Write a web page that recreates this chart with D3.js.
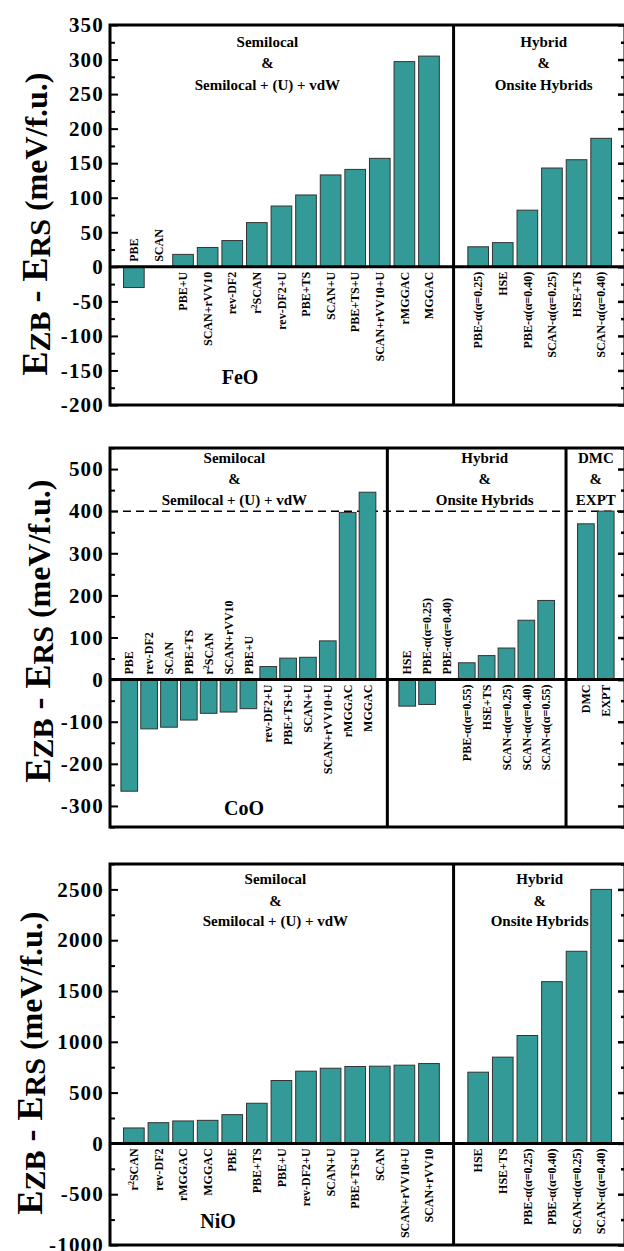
<html>
<head>
<meta charset="utf-8">
<script src="https://cdnjs.cloudflare.com/ajax/libs/d3/7.8.5/d3.min.js"></script>
<style>
	body { margin: 0; background: #fff; }
	text { font-family: "Liberation Serif", "Times New Roman", serif; font-weight: bold; }
</style>
</head>
<body>
<div id="chart"></div>
<script>

// ---- data (meV/f.u.) ----
var feoSemiCats = ["PBE", "SCAN", "PBE+U", "SCAN+rVV10", "rev-DF2", "r2SCAN", "rev-DF2+U", "PBE+TS", "SCAN+U", "PBE+TS+U", "SCAN+rVV10+U", "rMGGAC", "MGGAC"];
var feoSemiVals = [-30, 0, 18, 28, 38, 64, 88, 104, 133, 141, 157, 297, 305];
var feoHybCats = ["PBE-α(α=0.25)", "HSE", "PBE-α(α=0.40)", "SCAN-α(α=0.25)", "HSE+TS", "SCAN-α(α=0.40)"];
var feoHybVals = [29, 35, 82, 143, 155, 186];

var cooSemiCats = ["PBE", "rev-DF2", "SCAN", "PBE+TS", "r2SCAN", "SCAN+rVV10", "PBE+U", "rev-DF2+U", "PBE+TS+U", "SCAN+U", "SCAN+rVV10+U", "rMGGAC", "MGGAC"];
var cooSemiVals = [-265, -117, -113, -96, -80, -77, -69, 31, 51, 53, 92, 397, 445];
var cooHybCats = ["HSE", "PBE-α(α=0.25)", "PBE-α(α=0.40)", "PBE-α(α=0.55)", "HSE+TS", "SCAN-α(α=0.25)", "SCAN-α(α=0.40)", "SCAN-α(α=0.55)"];
var cooHybVals = [-63, -59, -2, 40, 57, 75, 141, 188];
var cooRefCats = ["DMC", "EXPT"];
var cooRefVals = [370, 400];
var cooRefLine = 400;

var nioSemiCats = ["r2SCAN", "rev-DF2", "rMGGAC", "MGGAC", "PBE", "PBE+TS", "PBE+U", "rev-DF2+U", "SCAN+U", "PBE+TS+U", "SCAN", "SCAN+rVV10+U", "SCAN+rVV10"];
var nioSemiVals = [152, 204, 221, 227, 283, 395, 619, 711, 740, 757, 760, 770, 786];
var nioHybCats = ["HSE", "HSE+TS", "PBE-α(α=0.25)", "PBE-α(α=0.40)", "SCAN-α(α=0.25)", "SCAN-α(α=0.40)"];
var nioHybVals = [701, 849, 1062, 1592, 1891, 2500];

var semiTitle = ["Semilocal", "&", "Semilocal + (U) + vdW"];
var hybTitle = ["Hybrid", "&", "Onsite Hybrids"];
var refTitle = ["DMC", "&", "EXPT"];

// ---- layout ----
var W = 624, H = 1251;
var left = 110, right = 625;
var barColor = "#339a97";

var panels = [
	{ name: "FeO", top: 25, bottom: 405, domain: [-200, 350], tickStart: -200, major: 50, titleX: 47, titleY: 224, nameX: 240, nameY: 384,
	  lineY: [17, 38, 60],
	  groups: [ { cats: feoSemiCats, vals: feoSemiVals, title: semiTitle, dx: -14 },
	            { cats: feoHybCats, vals: feoHybVals, title: hybTitle, dx: 4 } ] },
	{ name: "CoO", top: 448, bottom: 827, domain: [-350, 550], tickStart: -300, major: 100, titleX: 50, titleY: 631, nameX: 244, nameY: 815,
	  lineY: [10, 31, 52], refLine: cooRefLine,
	  groups: [ { cats: cooSemiCats, vals: cooSemiVals, title: semiTitle, dx: -14 },
	            { cats: cooHybCats, vals: cooHybVals, title: hybTitle, dx: 8 },
	            { cats: cooRefCats, vals: cooRefVals, title: refTitle, dx: 0 } ] },
	{ name: "NiO", top: 864, bottom: 1245, domain: [-1000, 2750], tickStart: -1000, major: 500, titleX: 42, titleY: 1063, nameX: 218, nameY: 1228,
	  lineY: [15, 37, 57],
	  groups: [ { cats: nioSemiCats, vals: nioSemiVals, title: semiTitle, dx: -6 },
	            { cats: nioHybCats, vals: nioHybVals, title: hybTitle, dx: 0 } ] }
];

var svg = d3.select("#chart").append("svg")
	.attr("width", W)
	.attr("height", H);

svg.append("rect").attr("width", W).attr("height", H).attr("fill", "#fff");

function addLabel(sel, name) {
	// r2SCAN gets a superscript 2
	if (name == "r2SCAN") {
		sel.append("tspan").text("r");
		sel.append("tspan").attr("font-size", "8px").attr("dy", "-4").text("2");
		sel.append("tspan").attr("dy", "4").text("SCAN");
	} else {
		sel.text(name);
	}
}

panels.forEach(function(p) {

	var g = svg.append("g");

	// one band scale over all slots, with an empty slot between groups
	var slots = [];
	p.groups.forEach(function(gr, i) {
		if (i > 0) slots.push("_gap" + i);
		gr.cats.forEach(function(c) { slots.push(c); });
	});

	var x = d3.scaleBand()
		.domain(slots)
		.range([left, right])
		.paddingInner(0.16)
		.paddingOuter(0.55);

	var y = d3.scaleLinear()
		.domain(p.domain)
		.range([p.bottom, p.top]);

	var y0 = y(0);

	// ticks
	var inside = function(v) { return v >= p.domain[0] && v <= p.domain[1]; };
	var majors = d3.range(p.tickStart, p.domain[1] + 1, p.major).filter(inside);
	var minors = d3.range(p.tickStart - p.major / 2, p.domain[1] + 1, p.major).filter(inside);

	var ax = g.append("g").attr("transform", "translate(" + left + ",0)")
		.call(d3.axisLeft(y).tickValues(majors).tickSizeInner(-8).tickSizeOuter(0).tickPadding(6)
			.tickFormat(function(d) { return String(d); }));
	ax.select(".domain").remove();
	ax.selectAll("line").attr("stroke", "#000").attr("stroke-width", 2);
	ax.selectAll("text")
		.attr("font-size", "21px")
		.attr("letter-spacing", "1.2px")
		.attr("fill", "#000");

	var axm = g.append("g").attr("transform", "translate(" + left + ",0)")
		.call(d3.axisLeft(y).tickValues(minors).tickSizeInner(-5).tickSizeOuter(0).tickFormat(""));
	axm.select(".domain").remove();
	axm.selectAll("line").attr("stroke", "#000").attr("stroke-width", 2);

	var axr = g.append("g").attr("transform", "translate(" + right + ",0)")
		.call(d3.axisRight(y).tickValues(majors).tickSizeInner(-7).tickSizeOuter(0).tickFormat(""));
	axr.select(".domain").remove();
	axr.selectAll("line").attr("stroke", "#000").attr("stroke-width", 2.5);

	var axrm = g.append("g").attr("transform", "translate(" + right + ",0)")
		.call(d3.axisRight(y).tickValues(minors).tickSizeInner(-4).tickSizeOuter(0).tickFormat(""));
	axrm.select(".domain").remove();
	axrm.selectAll("line").attr("stroke", "#000").attr("stroke-width", 2.5);

	// dashed reference line
	if (p.refLine != null) {
		g.append("line")
			.attr("x1", left).attr("x2", right)
			.attr("y1", y(p.refLine)).attr("y2", y(p.refLine))
			.attr("stroke", "#000")
			.attr("stroke-width", 1.5)
			.attr("stroke-dasharray", "8,5");
	}

	p.groups.forEach(function(gr, gi) {

		var data = gr.cats.map(function(c, i) { return { cat: c, val: gr.vals[i] }; });

		g.selectAll(".bar" + gi)
			.data(data)
			.enter()
			.append("rect")
			.attr("x", function(d) { return x(d.cat); })
			.attr("y", function(d) { return Math.min(y(d.val), y0); })
			.attr("width", x.bandwidth())
			.attr("height", function(d) { return Math.abs(y(d.val) - y0); })
			.attr("fill", barColor)
			.attr("stroke", "#333")
			.attr("stroke-width", 1);

		g.selectAll(".lab" + gi)
			.data(data)
			.enter()
			.append("text")
			.attr("transform", function(d) {
				var cx = x(d.cat) + x.bandwidth() / 2;
				var ty = d.val > 0 ? y0 + 5 : y0 - 5;
				return "translate(" + cx + "," + ty + ") rotate(-90)";
			})
			.attr("text-anchor", function(d) { return d.val > 0 ? "end" : "start"; })
			.attr("dy", "0.35em")
			.attr("font-size", "12px")
			.attr("fill", "#000")
			.each(function(d) { addLabel(d3.select(this), d.cat); });

		// group heading
		var gx = (x(gr.cats[0]) + x(gr.cats[gr.cats.length - 1]) + x.bandwidth()) / 2 + gr.dx;
		gr.title.forEach(function(t, ti) {
			g.append("text")
				.attr("x", gx)
				.attr("y", p.top + p.lineY[ti])
				.attr("dy", "0.35em")
				.attr("text-anchor", "middle")
				.attr("font-size", "15px")
				.attr("fill", "#000")
				.text(t);
		});

		// vertical divider in the middle of the gap slot
		if (gi > 0) {
			var dxl = x("_gap" + gi) + x.bandwidth() / 2;
			g.append("line")
				.attr("x1", dxl).attr("x2", dxl)
				.attr("y1", p.top).attr("y2", p.bottom)
				.attr("stroke", "#000")
				.attr("stroke-width", 3);
		}
	});

	// zero line
	g.append("line")
		.attr("x1", left).attr("x2", right)
		.attr("y1", y0).attr("y2", y0)
		.attr("stroke", "#000")
		.attr("stroke-width", 3);

	// frame
	g.append("rect")
		.attr("x", left).attr("y", p.top)
		.attr("width", right - left).attr("height", p.bottom - p.top)
		.attr("fill", "none")
		.attr("stroke", "#000")
		.attr("stroke-width", 3);

	// compound name
	g.append("text")
		.attr("x", p.nameX).attr("y", p.nameY)
		.attr("text-anchor", "middle")
		.attr("font-size", "20px")
		.attr("fill", "#000")
		.text(p.name);

	// y title
	var tt = g.append("text")
		.attr("transform", "translate(" + p.titleX + "," + p.titleY + ") rotate(-90)")
		.attr("text-anchor", "middle")
		.attr("font-size", "36px")
		.attr("fill", "#000");
	tt.append("tspan").text("E");
	tt.append("tspan").attr("font-size", "30px").attr("dy", 3).text("ZB");
	tt.append("tspan").attr("dy", -3).text(" - E");
	tt.append("tspan").attr("font-size", "30px").attr("dy", 3).text("RS");
	tt.append("tspan").attr("dy", -3).attr("font-size", "32px").text(" (meV/f.u.)");
});

</script>
</body>
</html>
